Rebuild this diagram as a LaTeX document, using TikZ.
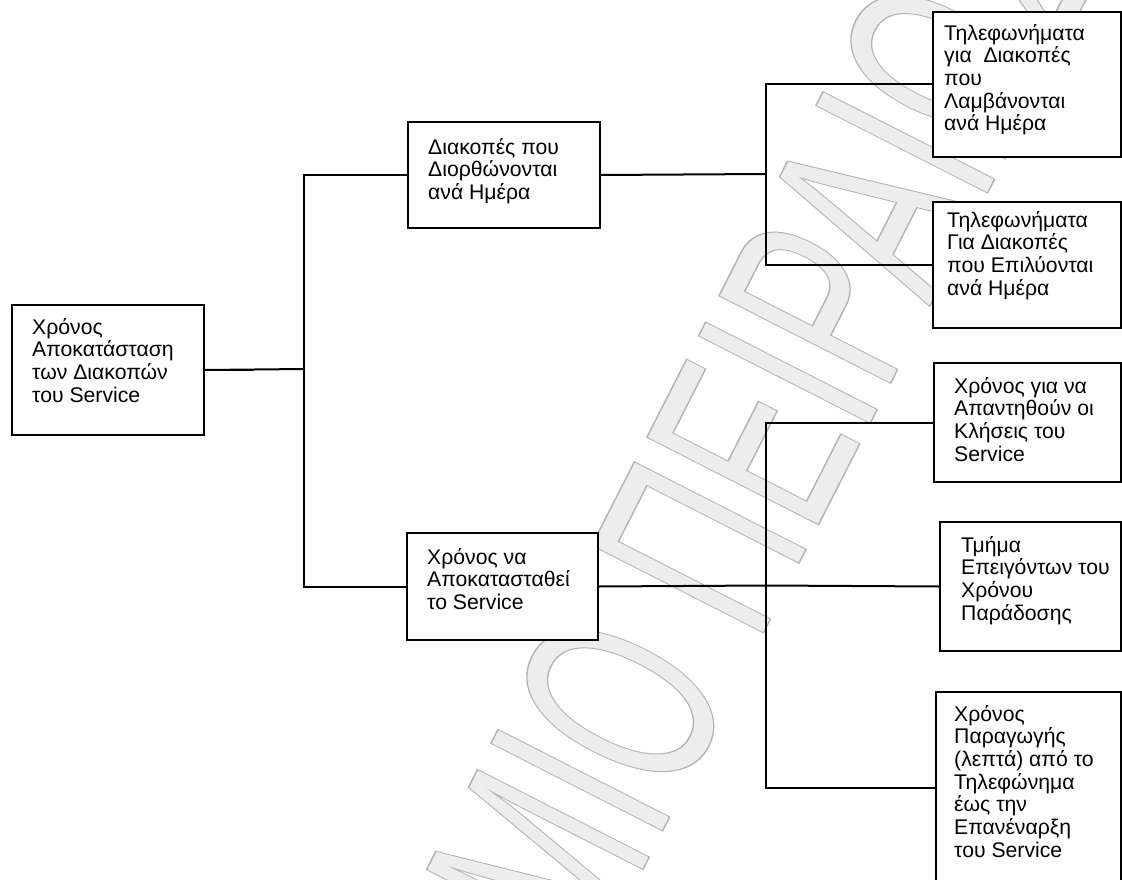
\documentclass[tikz,border=0pt]{standalone}
\usepackage{fontspec}
\setmainfont{Liberation Sans}
\tikzset{
  box/.style={draw, fill=white, line width=2pt, rectangle, inner sep=0pt, anchor=north west},
  txt/.style={inner sep=0pt, anchor=north west, align=left, font=\fontsize{21.2}{22.7}\selectfont},
  link/.style={line width=2pt},
  markstyle/.style={rotate=63, xscale=0.6, anchor=base west, inner sep=0pt,
                    font=\fontsize{280}{280}\selectfont},
}
% hollow (stroked) glyphs for the background mark
\newcommand\hollowtext[1]{\special{pdf:literal direct 1 Tr 1.4 w}#1\special{pdf:literal direct 0 Tr 1 w}}
\begin{document}
\begin{tikzpicture}[x=1pt,y=-1pt]
\useasboundingbox (0,0) rectangle (1122,880);
\fill[white] (0,0) rectangle (1122,880);

% background mark: a faint fill for the haze, then the hollow letters
\node[markstyle, text=black!7] (markhaze) at (155,1827) {ΠΑΝΕΠΙΣΤΗΜΙΟ ΠΕΙΡΑΙΩΣ};
\node[markstyle, text=black!30] (mark) at (155,1827) {\hollowtext{ΠΑΝΕΠΙΣΤΗΜΙΟ ΠΕΙΡΑΙΩΣ}};

% junction points
\coordinate (j1) at (304,369);
\coordinate (j2) at (766,174);
\coordinate (j3) at (766,585.5);

% boxes
\node[box, minimum width=192pt, minimum height=130pt] (root) at (11,304) {};
\node[box, minimum width=192pt, minimum height=106pt] (n2) at (407,121) {};
\node[box, minimum width=191pt, minimum height=107pt] (n3) at (406,532) {};
\node[box, minimum width=188pt, minimum height=145pt] (a) at (932,11) {};
\node[box, minimum width=188pt, minimum height=126pt] (b) at (932,201) {};
\node[box, minimum width=187pt, minimum height=119pt] (c) at (933,362) {};
\node[box, minimum width=181pt, minimum height=129pt] (d) at (939,521) {};
\node[box, minimum width=185pt, minimum height=192pt] (e) at (935,691) {};

% connectors
\draw[line width=2.8pt] (root.east) -- ++(48,0);
\draw[link] (root.east) -- (j1);
\draw[link] (n2.west) -- (n2.west -| j1) -- (n3.west -| j1) -- (n3.west);
\draw[link] (n2.east) -- (j2);
\draw[link] (a.west) -- (a.west -| j2) -- (b.west -| j2) -- (b.west);
\draw[link] (n3.east) -- (j3) -- (d.west);
\draw[link] (c.west) -- (c.west -| j3) -- (e.west -| j3) -- (e.west);

% labels
\node[txt] (root-t) at (32,318) {Χρόνος\\Αποκατάσταση\\των Διακοπών\\του Service};
\node[txt] (n2-t) at (428,138) {Διακοπές που\\Διορθώνονται\\ανά Ημέρα};
\node[txt] (n3-t) at (427,548) {Χρόνος να\\Αποκατασταθεί\\το Service};
\node[txt] (a-t) at (944,24) {Τηλεφωνήματα\\για~ Διακοπές\\που\\Λαμβάνονται\\ανά Ημέρα};
\node[txt] (b-t) at (947,211) {Τηλεφωνήματα\\Για Διακοπές\\που Επιλύονται\\ανά Ημέρα};
\node[txt] (c-t) at (954,377) {Χρόνος για να\\Απαντηθούν οι\\Κλήσεις του\\Service};
\node[txt] (d-t) at (961,536) {Τμήμα\\Επειγόντων του\\Χρόνου\\Παράδοσης};
\node[txt] (e-t) at (954,705) {Χρόνος\\Παραγωγής\\(λεπτά) από το\\Τηλεφώνημα\\έως την\\Επανέναρξη\\του Service};
\end{tikzpicture}
\end{document}
